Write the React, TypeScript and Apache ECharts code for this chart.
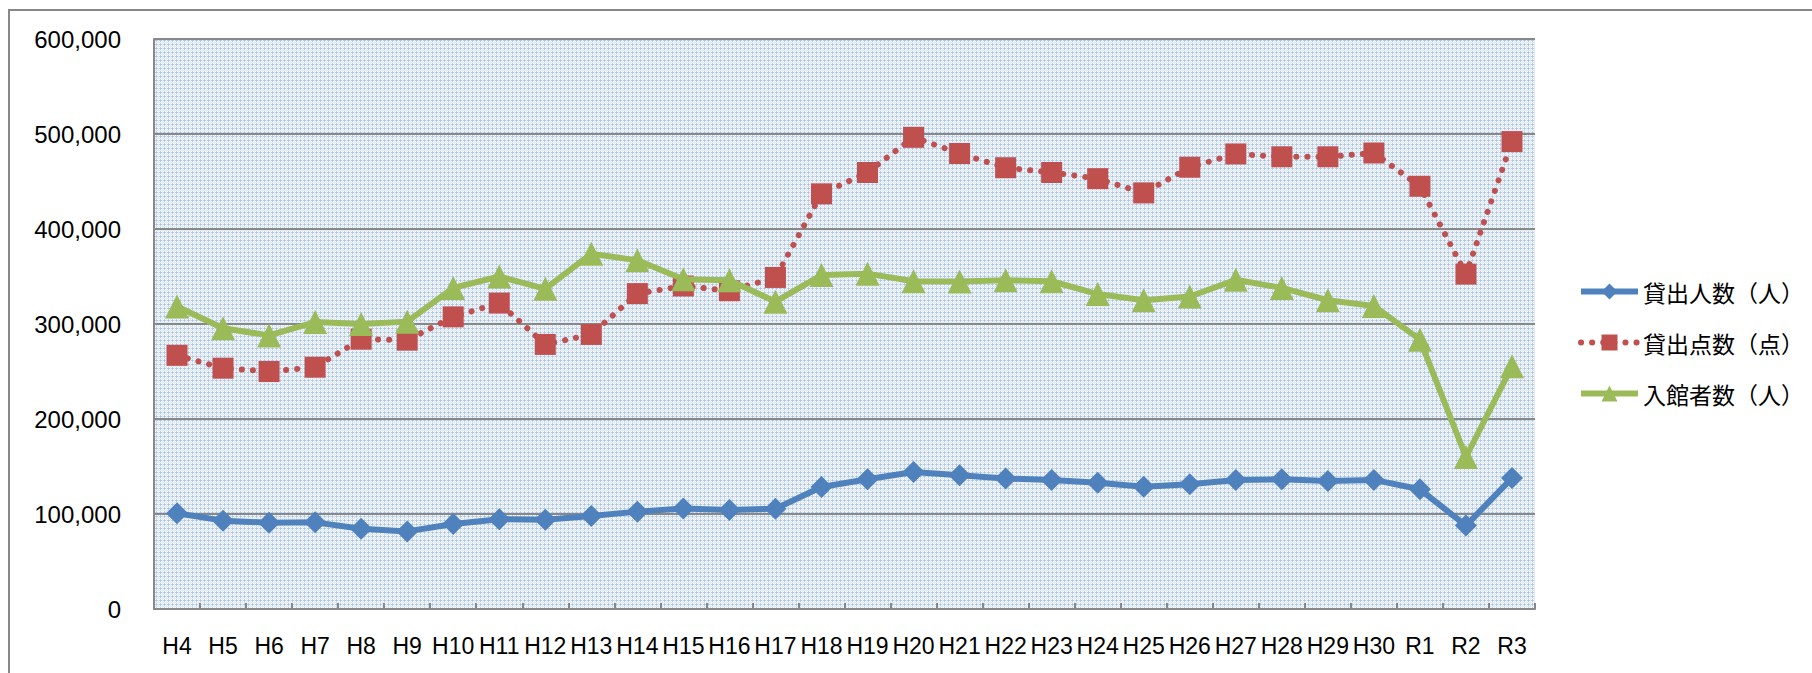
import React, { useEffect, useRef } from "react";
import * as echarts from "echarts";

const categories = [
  "H4", "H5", "H6", "H7", "H8", "H9", "H10", "H11", "H12", "H13", "H14", "H15",
  "H16", "H17", "H18", "H19", "H20", "H21", "H22", "H23", "H24", "H25", "H26",
  "H27", "H28", "H29", "H30", "R1", "R2", "R3",
];

const seriesNames = ["貸出人数（人）", "貸出点数（点）", "入館者数（人）"];

const lendingPeople = [
  100700, 93000, 90800, 91200, 84500, 81700, 89500, 94500, 94000, 98000, 102500,
  105800, 104300, 105500, 128500, 136500, 144300, 140800, 137400, 135800, 133000,
  128600, 131300, 135700, 136500, 134800, 135900, 126000, 87800, 137800,
];

const lendingItems = [
  267000, 253500, 250000, 254500, 284000, 283000, 307500, 322000, 278500, 289000,
  332000, 340000, 335000, 349000, 437000, 459500, 496500, 479500, 464500, 459500,
  453000, 438000, 465000, 479000, 476000, 476000, 480000, 445000, 352500, 492000,
];

const visitors = [
  318500, 295500, 288000, 302000, 300000, 302500, 338000, 350000, 337000, 374000,
  367000, 347000, 346000, 323500, 351500, 353000, 345000, 344800, 346000, 345000,
  331500, 325000, 329000, 346500, 338000, 325000, 319000, 283500, 160000, 255500,
];

const yMin = 0;
const yMax = 600000;
const yInterval = 100000;

function makePattern(): any {
  const c = document.createElement("canvas");
  c.width = 4;
  c.height = 4;
  const ctx = c.getContext("2d");
  if (!ctx) return "#dce7f5";
  ctx.fillStyle = "#ffffff";
  ctx.fillRect(0, 0, 4, 4);
  ctx.fillStyle = "#bcd1ed";
  ctx.fillRect(0, 0, 4, 1);
  ctx.fillRect(0, 0, 1, 4);
  ctx.fillStyle = "#e2ebf7";
  ctx.fillRect(0, 2, 4, 1);
  ctx.fillRect(2, 0, 1, 4);
  ctx.fillStyle = "#a3bfe6";
  ctx.fillRect(0, 0, 1, 1);
  return { image: c.toDataURL(), repeat: "repeat", imageWidth: 4, imageHeight: 4 };
}

export default function App() {
  const ref = useRef<HTMLDivElement>(null);

  useEffect(() => {
    if (!ref.current) return;
    const chart = echarts.init(ref.current, null, { renderer: "svg" });
    const gray = "#888888";
    const blue = "#4f81bd";
    const red = "#c0504d";
    const green = "#9bbb59";
    chart.setOption({
      animation: false,
      backgroundColor: "#ffffff",
      graphic: [
        {
          type: "rect",
          shape: { x: 9, y: 10, width: 1830, height: 700 },
          style: { fill: "none", stroke: gray, lineWidth: 2 },
          silent: true,
        },
      ],
      grid: {
        left: 154,
        right: 277,
        top: 39,
        bottom: 64,
        show: true,
        borderWidth: 0,
        backgroundColor: makePattern(),
      },
      legend: {
        orient: "vertical",
        left: 1573,
        top: 275,
        itemWidth: 57,
        itemHeight: 20,
        itemGap: 28,
        textStyle: {
          fontFamily: "Noto Sans CJK JP",
          fontSize: 23,
          lineHeight: 23,
          color: "#000000",
        },
        data: [
          { name: seriesNames[0], lineStyle: { width: 6, color: blue } },
          { name: seriesNames[1], lineStyle: { width: 6, color: red, type: [0.1, 11], cap: "round" } },
          { name: seriesNames[2], lineStyle: { width: 6, color: green } },
        ],
      },
      xAxis: {
        type: "category",
        data: categories,
        boundaryGap: true,
        axisLine: { show: true, lineStyle: { color: gray, width: 2 } },
        axisTick: { show: true, inside: true, length: 6, lineStyle: { color: gray, width: 2 } },
        axisLabel: {
          interval: 0,
          margin: 25,
          fontFamily: "Liberation Sans",
          fontSize: 23,
          color: "#000000",
        },
        splitLine: { show: false },
      },
      yAxis: {
        type: "value",
        min: yMin,
        max: yMax,
        interval: yInterval,
        axisLine: { show: true, lineStyle: { color: gray, width: 2 } },
        axisTick: { show: false },
        axisLabel: {
          margin: 33,
          fontFamily: "Liberation Sans",
          fontSize: 24,
          color: "#000000",
          formatter: (v: number) => v.toLocaleString("en-US"),
        },
        splitLine: { show: true, lineStyle: { color: gray, width: 2 } },
      },
      series: [
        {
          name: seriesNames[0],
          type: "line",
          data: lendingPeople,
          symbol: "diamond",
          symbolSize: 22,
          lineStyle: { color: blue, width: 6 },
          itemStyle: { color: blue },
          z: 2,
        },
        {
          name: seriesNames[1],
          type: "line",
          data: lendingItems,
          symbol: "rect",
          symbolSize: 21,
          lineStyle: { color: red, width: 6, type: [0.1, 11], cap: "round" },
          itemStyle: { color: red },
          z: 3,
        },
        {
          name: seriesNames[2],
          type: "line",
          data: visitors,
          symbol: "triangle",
          symbolSize: 24,
          lineStyle: { color: green, width: 6 },
          itemStyle: { color: green },
          z: 4,
        },
      ],
    });
    return () => chart.dispose();
  }, []);

  return (
    <div
      ref={ref}
      style={{ position: "absolute", left: 0, top: 0, width: 1812, height: 673 }}
    />
  );
}
